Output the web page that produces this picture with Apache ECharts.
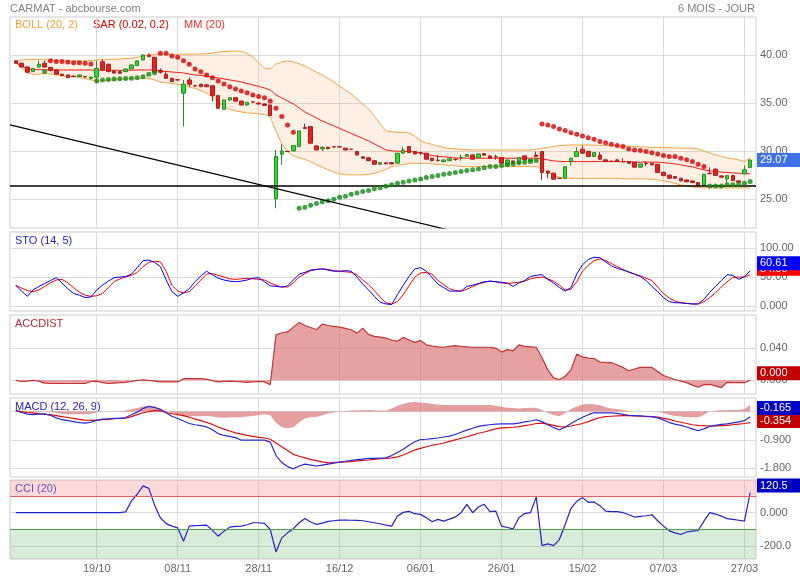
<!DOCTYPE html>
<html><head><meta charset="utf-8">
<script src="https://cdn.jsdelivr.net/npm/echarts@6.0.0/dist/echarts.min.js"></script>
<style>html,body{margin:0;padding:0;background:#fff}#c{width:800px;height:580px}</style>
</head><body><div id="c"></div>
<script>
// ---- x axis tick labels (trading-day index -> date) ----
const tickIdx  = [14, 28, 42, 56, 70, 84, 98, 112, 126];
const tickText = ['19/10','08/11','28/11','16/12','06/01','26/01','15/02','07/03','27/03'];

// ---- candles: [open, close, low, high] ----
const candles = [
[39.38,39.14,39.10,39.42],[39.14,38.75,38.70,39.20],[38.75,38.20,38.15,38.80],[38.27,38.60,38.22,38.65],[38.75,39.03,38.70,39.40],
[39.14,38.75,38.70,39.40],[38.70,38.37,38.30,38.75],[38.44,38.00,37.95,38.50],[38.00,37.85,37.80,38.05],[37.92,37.64,37.60,37.95],
[37.80,37.76,37.70,37.85],[37.75,37.92,37.70,37.95],[37.75,37.72,37.65,37.78],[37.58,37.70,37.43,37.74],[37.68,38.60,37.20,39.40],
[39.30,38.44,38.40,39.55],[39.03,38.27,38.20,39.10],[38.33,38.13,38.05,38.40],[38.27,38.10,38.05,38.30],[38.27,38.54,38.20,38.60],
[38.54,38.96,38.50,39.00],[38.89,39.38,38.85,39.45],[39.48,40.00,39.45,40.05],[40.00,39.83,39.80,40.15],[39.76,38.20,38.15,39.80],
[38.40,38.20,38.05,38.60],[38.00,37.58,37.50,38.30],[37.58,37.23,37.20,37.60],[37.42,37.40,37.35,37.45],[36.02,36.96,32.55,37.40],
[37.40,36.96,36.70,37.65],[36.80,36.78,36.70,36.85],[36.96,36.70,36.65,37.00],[36.90,36.70,36.65,36.95],[36.80,35.77,35.15,36.85],
[35.77,34.46,34.40,35.85],[34.35,35.32,34.30,35.35],[35.32,35.56,35.25,35.60],[35.56,35.20,35.15,35.60],[35.20,34.80,34.75,35.25],
[34.80,35.08,34.75,35.10],[35.12,35.10,35.05,35.15],[35.00,34.90,34.85,35.05],[34.90,34.75,34.70,34.95],[34.80,33.70,33.65,34.85],
[25.03,29.43,24.06,30.10],[29.68,30.02,28.56,30.75],[29.98,29.95,29.90,30.02],[30.02,30.57,29.95,30.60],[30.47,32.10,30.40,32.15],
[32.45,32.35,32.30,32.85],[32.55,30.82,30.78,32.60],[30.54,30.12,30.08,30.58],[30.23,30.40,30.00,30.45],[30.40,30.25,30.20,30.45],
[30.45,30.43,30.38,30.50],[30.45,30.43,30.38,30.50],[30.30,30.12,30.08,30.35],[30.20,30.18,30.12,30.25],[29.95,29.60,29.55,30.00],
[29.40,29.26,29.20,29.45],[29.30,29.00,28.95,29.35],[29.00,28.63,28.60,29.05],[28.63,28.80,28.60,28.85],[28.78,28.68,28.62,28.82],
[28.80,28.66,28.62,28.84],[28.74,29.78,28.70,29.80],[29.78,30.12,29.75,30.45],[30.47,29.85,29.80,30.50],[29.95,29.70,29.65,30.00],
[29.82,29.80,29.60,29.95],[29.78,29.16,29.10,29.82],[29.26,29.00,28.95,29.30],[29.05,29.03,28.90,29.60],[28.90,29.08,28.85,29.10],
[29.00,29.20,28.95,29.25],[29.15,29.12,29.00,29.25],[29.30,29.35,29.00,29.65],[29.45,29.65,29.40,29.70],[29.60,29.16,29.10,29.65],
[29.30,29.70,29.25,29.75],[29.74,29.57,29.50,29.78],[29.50,29.26,29.20,29.55],[29.40,29.38,29.10,29.60],[29.33,28.74,28.70,29.38],
[28.57,29.08,28.52,29.12],[28.97,28.74,28.70,29.00],[28.74,29.33,28.70,29.38],[29.50,29.08,29.05,29.55],[28.92,29.15,28.90,29.20],
[29.60,29.43,29.40,29.95],[29.95,27.77,27.00,30.00],[27.93,27.70,27.15,27.98],[27.70,27.08,27.03,27.75],[27.18,27.16,27.10,27.22],
[27.18,28.39,27.15,28.45],[28.90,29.26,28.50,29.30],[29.43,29.95,29.40,30.40],[30.20,29.78,29.72,30.60],[29.98,29.43,29.40,30.02],
[29.43,29.85,29.38,29.90],[29.60,29.16,29.10,29.90],[29.09,28.92,28.88,29.12],[28.95,28.92,28.88,29.00],[29.09,28.92,28.88,29.12],
[28.90,28.88,28.85,29.25],[28.90,28.74,28.70,28.95],[28.85,28.33,28.30,28.88],[28.33,28.67,28.30,28.70],[28.70,28.68,28.45,28.95],
[28.74,28.57,28.52,28.78],[28.64,27.77,27.72,28.68],[27.80,27.45,27.40,27.85],[27.50,27.18,27.12,27.55],[27.35,27.18,27.12,27.40],
[27.18,26.90,26.85,27.22],[27.00,26.80,26.75,27.05],[26.90,26.73,26.68,26.95],[26.73,26.45,26.40,26.78],[26.45,27.60,26.40,27.65],
[27.70,27.65,27.60,28.30],[28.13,27.47,27.42,28.18],[27.42,27.28,27.22,27.46],[27.10,27.45,26.70,27.50],[27.45,26.93,26.88,27.50],
[26.90,26.75,26.70,26.95],[27.63,28.05,27.58,28.50],[28.30,29.07,28.25,29.12]
];

const bollUpper = [
39.38,39.48,39.53,39.55,39.53,39.50,39.48,39.45,39.41,39.38,
39.38,39.38,39.38,39.43,39.48,39.50,39.53,39.55,39.58,39.62,
39.66,39.74,39.90,40.00,40.07,40.07,40.07,40.07,40.07,40.07,
40.08,40.09,40.10,40.13,40.19,40.31,40.36,40.40,40.42,40.36,
40.18,39.79,39.17,38.65,38.54,39.06,39.27,39.38,39.27,39.10,
38.86,38.54,38.23,37.92,37.56,37.19,36.77,36.36,35.94,35.42,
34.90,34.38,33.65,32.82,32.10,32.00,31.96,31.94,31.89,31.58,
31.06,30.85,30.70,30.54,30.38,30.28,30.23,30.18,30.16,30.12,
30.12,30.12,30.12,30.12,30.12,30.12,30.12,30.12,30.12,30.12,
30.18,30.28,30.38,30.49,30.57,30.61,30.64,30.64,30.64,30.64,
30.62,30.60,30.59,30.58,30.57,30.54,30.51,30.48,30.44,30.41,
30.38,30.37,30.36,30.35,30.33,30.32,30.31,30.30,30.23,30.02,
29.81,29.60,29.45,29.29,29.19,29.09,28.93,29.29];

const bollLower = [
39.17,38.65,38.13,37.97,38.02,38.08,38.02,37.92,37.82,37.77,
37.71,37.66,37.56,37.40,37.30,37.33,37.37,37.40,37.45,37.51,
37.54,37.56,37.58,37.56,37.40,37.19,37.09,37.04,36.93,36.83,
36.67,36.52,36.31,36.05,35.63,35.11,34.65,34.33,34.18,34.08,
33.97,33.92,33.87,33.81,33.55,32.10,30.75,29.92,29.50,29.29,
29.14,28.88,28.57,28.31,28.05,27.84,27.63,27.53,27.53,27.53,
27.53,27.58,27.68,27.87,28.10,28.36,28.51,28.62,28.72,28.74,
28.74,28.72,28.67,28.62,28.57,28.51,28.46,28.39,28.39,28.39,
28.39,28.39,28.39,28.39,28.39,28.39,28.39,28.39,28.39,28.39,
28.39,28.15,27.79,27.47,27.27,27.18,27.16,27.16,27.16,27.16,
27.16,27.16,27.16,27.16,27.16,27.11,27.11,27.11,27.11,27.11,
27.06,27.01,26.90,26.80,26.64,26.49,26.38,26.28,26.21,26.17,
26.17,26.17,26.17,26.17,26.17,26.17,26.17,26.14];

const mm20 = [
39.22,38.86,38.54,38.49,38.47,38.47,38.44,38.44,38.44,38.44,
38.44,38.44,38.44,38.44,38.41,38.41,38.41,38.41,38.41,38.41,
38.41,38.44,38.44,38.44,38.41,38.34,38.28,38.23,38.18,38.13,
38.02,37.92,37.87,37.79,37.71,37.61,37.51,37.40,37.30,37.19,
37.04,36.88,36.73,36.57,36.36,35.84,35.53,35.22,34.91,34.49,
34.07,33.76,33.45,33.14,32.88,32.62,32.36,32.10,31.84,31.58,
31.32,31.06,30.75,30.44,30.12,30.02,29.99,29.97,29.95,29.92,
29.81,29.66,29.55,29.45,29.40,29.35,29.29,29.26,29.26,29.26,
29.26,29.26,29.26,29.26,29.26,29.26,29.26,29.26,29.26,29.26,
29.26,29.19,29.09,28.98,28.93,28.91,28.91,28.91,28.91,28.91,
28.91,28.91,28.91,28.91,28.91,28.91,28.91,28.85,28.85,28.85,
28.85,28.85,28.80,28.74,28.67,28.57,28.46,28.36,28.20,28.05,
27.94,27.87,27.81,27.77,27.73,27.70,27.68,27.63];

const sar = [
null,null,null,null,null,38.27,39.41,39.31,39.31,39.27,
39.20,39.20,39.15,39.06,37.30,37.40,37.45,37.50,37.52,37.54,
37.58,37.64,37.74,38.00,38.14,40.18,40.18,39.90,39.76,39.41,
39.03,38.54,38.26,37.92,37.64,37.30,36.99,36.70,36.47,36.26,
36.08,35.84,35.67,35.56,35.22,34.46,33.59,32.72,31.96,24.05,
24.17,24.36,24.54,24.72,24.84,25.00,25.19,25.31,25.50,25.65,
25.79,25.91,26.09,26.20,26.35,26.49,26.66,26.77,26.90,27.00,
27.11,27.25,27.35,27.45,27.60,27.66,27.77,27.87,27.97,28.05,
28.15,28.28,28.39,28.41,28.49,28.57,28.67,28.80,28.85,28.91,
29.01,32.83,32.72,32.55,32.31,32.13,31.92,31.76,31.58,31.40,
31.24,30.99,30.88,30.72,30.57,30.47,30.23,30.12,30.05,29.95,
29.84,29.71,29.53,29.43,29.43,29.26,29.09,28.91,28.64,28.39,
26.38,26.38,26.38,26.49,26.49,26.49,26.66,26.83];

// drawn lines on the price chart
const trendIdx = [-1, 79];
const trendVal = [32.72, 21.2];
const supportLevel = 26.35;

const stoK = [
36,26,17,28,34,39,44,49,40,30, 22,19,15,16,28,36,43,49,50,51,
55,66,78,79,75,68,45,25,17,23, 30,42,52,60,54,48,45,43,42,43,
45,48,49,42,35,34,33,35,45,55, 58,62,63,64,62,60,60,61,60,50,
38,28,17,7,4,3,20,36,51,64, 66,60,49,38,32,26,26,26,34,36,
39,42,43,42,41,40,34,40,44,51, 53,54,46,40,32,26,32,55,71,80,
84,83,76,69,65,62,59,55,51,44, 34,25,15,8,6,6,5,4,4,12,
24,34,44,54,53,46,51,60.61];

const stoD = [
36,31,27,25,28,34,40,45,46,40, 32,24,19,17,18,22,32,42,47,50,
53,58,68,75,77,76,60,36,26,23, 25,35,45,55,56,53,50,47,46,47,
48,47,46,45,40,36,33,33,40,50, 56,61,63,64,63,61,60,59,58,54,
45,37,27,16,6,4,8,20,35,50, 57,58,55,44,37,30,27,26,29,34,
38,41,43,42,40,39,40,41,43,47, 49,50,47,43,36,28,29,42,60,70,
78,81,78,73,68,63,58,55,52,48, 44,33,22,14,9,6,5,4,4,8,
15,23,33,42,49,50,50,54];

const accDist = [
0.0000,-0.0015,-0.0010,0.0000,-0.0010,-0.0035,-0.0040,-0.0040,-0.0040,-0.0040,
-0.0040,-0.0040,-0.0040,-0.0015,-0.0010,-0.0030,-0.0040,-0.0035,-0.0030,-0.0025,
-0.0015,0.0000,0.0005,0.0000,-0.0010,-0.0020,-0.0020,-0.0020,-0.0020,0.0020,
0.0020,0.0020,0.0020,0.0015,-0.0005,-0.0020,-0.0015,-0.0010,-0.0015,-0.0020,
-0.0025,-0.0020,-0.0015,-0.0020,-0.0055,0.0565,0.0590,0.0600,0.0660,0.0718,
0.0680,0.0655,0.0627,0.0697,0.0680,0.0668,0.0660,0.0645,0.0627,0.0585,
0.0647,0.0570,0.0545,0.0535,0.0524,0.0500,0.0483,0.0532,0.0500,0.0470,
0.0495,0.0440,0.0425,0.0415,0.0410,0.0420,0.0430,0.0420,0.0415,0.0410,
0.0410,0.0410,0.0410,0.0400,0.0350,0.0380,0.0366,0.0440,0.0420,0.0415,
0.0410,0.0280,0.0130,0.0030,0.0010,0.0050,0.0130,0.0325,0.0290,0.0276,
0.0270,0.0226,0.0222,0.0220,0.0190,0.0160,0.0119,0.0140,0.0160,0.0160,
0.0160,0.0110,0.0060,0.0035,0.0010,-0.0010,-0.0030,-0.0060,-0.0087,-0.0054,
-0.0050,-0.0070,-0.0090,-0.0025,-0.0030,-0.0030,-0.0030,0.0000];

const macd = [
0.03,-0.03,-0.08,-0.10,-0.08,-0.07,-0.12,-0.20,-0.26,-0.29,
-0.32,-0.35,-0.37,-0.34,-0.28,-0.24,-0.23,-0.22,-0.22,-0.19,
-0.10,-0.02,0.10,0.16,0.13,0.07,-0.04,-0.15,-0.22,-0.30,
-0.38,-0.42,-0.45,-0.49,-0.58,-0.70,-0.76,-0.79,-0.83,-0.91,
-0.91,-0.91,-0.91,-0.91,-0.97,-1.40,-1.62,-1.75,-1.82,-1.73,
-1.67,-1.70,-1.73,-1.70,-1.67,-1.64,-1.61,-1.58,-1.55,-1.53,
-1.51,-1.49,-1.49,-1.48,-1.47,-1.40,-1.30,-1.20,-1.07,-0.96,
-0.89,-0.88,-0.86,-0.84,-0.81,-0.78,-0.73,-0.66,-0.59,-0.53,
-0.47,-0.44,-0.42,-0.40,-0.39,-0.39,-0.39,-0.37,-0.33,-0.30,
-0.26,-0.32,-0.42,-0.51,-0.58,-0.50,-0.38,-0.28,-0.18,-0.10,
-0.04,-0.04,-0.04,-0.04,-0.06,-0.09,-0.12,-0.13,-0.14,-0.15,
-0.16,-0.20,-0.27,-0.35,-0.40,-0.44,-0.49,-0.55,-0.61,-0.55,
-0.47,-0.44,-0.41,-0.39,-0.36,-0.33,-0.29,-0.165];

const macdSignal = [
0.03,0.00,-0.03,-0.05,-0.07,-0.09,-0.10,-0.13,-0.16,-0.19,
-0.22,-0.25,-0.27,-0.28,-0.27,-0.26,-0.25,-0.23,-0.22,-0.21,
-0.16,-0.10,-0.04,0.00,0.03,0.02,-0.03,-0.07,-0.10,-0.13,
-0.18,-0.24,-0.29,-0.35,-0.41,-0.49,-0.56,-0.62,-0.68,-0.72,
-0.76,-0.79,-0.82,-0.84,-0.88,-1.00,-1.12,-1.24,-1.36,-1.42,
-1.47,-1.52,-1.56,-1.60,-1.63,-1.62,-1.61,-1.60,-1.59,-1.57,
-1.55,-1.54,-1.52,-1.50,-1.49,-1.47,-1.44,-1.38,-1.30,-1.22,
-1.17,-1.12,-1.07,-1.04,-1.00,-0.95,-0.90,-0.85,-0.80,-0.75,
-0.69,-0.65,-0.60,-0.55,-0.52,-0.51,-0.50,-0.48,-0.45,-0.42,
-0.38,-0.37,-0.40,-0.44,-0.48,-0.49,-0.46,-0.42,-0.38,-0.32,
-0.25,-0.19,-0.16,-0.15,-0.14,-0.13,-0.13,-0.14,-0.15,-0.16,
-0.16,-0.18,-0.22,-0.25,-0.30,-0.34,-0.38,-0.42,-0.44,-0.45,
-0.46,-0.46,-0.45,-0.44,-0.42,-0.40,-0.38,-0.354];

const macdHist = [
0.00,-0.03,-0.05,-0.05,-0.02,0.00,-0.02,-0.05,-0.08,-0.09,
-0.09,-0.09,-0.09,-0.07,-0.03,-0.01,0.00,0.01,0.01,0.03,
0.07,0.11,0.16,0.20,0.16,0.08,0.00,-0.05,-0.09,-0.12,
-0.14,-0.15,-0.15,-0.14,-0.16,-0.19,-0.20,-0.19,-0.18,-0.18,
-0.16,-0.14,-0.11,-0.09,-0.12,-0.36,-0.50,-0.53,-0.50,-0.35,
-0.22,-0.18,-0.17,-0.12,-0.06,-0.03,0.00,0.02,0.03,0.04,
0.04,0.05,0.04,0.03,0.03,0.10,0.18,0.25,0.29,0.30,
0.29,0.27,0.24,0.22,0.21,0.21,0.21,0.21,0.21,0.21,
0.21,0.21,0.21,0.18,0.15,0.12,0.11,0.10,0.11,0.12,
0.12,0.05,-0.05,-0.12,-0.15,-0.05,0.08,0.16,0.22,0.24,
0.23,0.20,0.14,0.10,0.08,0.05,0.02,0.00,0.00,0.00,
0.00,0.00,-0.05,-0.10,-0.14,-0.16,-0.18,-0.18,-0.18,-0.10,
0.00,0.03,0.04,0.05,0.05,0.05,0.08,0.21];

const cci = [
0,0,0,0,0,0,0,0,0,0, 0,0,0,0,0,0,0,0,0,5,
70,110,160,145,45,-30,-65,-80,-90,-170, -80,-77,-76,-74,-105,-140,-110,-86,-82,-80,
-72,-60,-60,-64,-100,-234,-150,-120,-95,-60, -35,-55,-70,-62,-52,-48,-44,-44,-45,-46,
-48,-54,-60,-66,-74,-80,-20,2,8,-6, -10,-30,-54,-40,-50,-38,-26,0,50,0,
34,50,6,10,-80,-88,-96,-30,-5,0, 93,-196,-186,-196,-160,-70,25,68,90,62,
64,42,10,6,6,1,-12,-26,-22,-18, -12,-48,-80,-108,-120,-130,-115,-110,-106,-50,
0,-8,-20,-35,-40,-45,-50,120.5];

// ---- y axis ticks ----
const mainTicks = [25, 30, 35, 40];
const stoTicks = [0, 50, 100], stoTickText = ['0.000', '50.00', '100.00'];
const accTicks = [0, 0.04];
const macdTicks = [-1.8, -0.9, 0];
const cciTicks = [-200, 0], cciTickText = ['-200.0', '0.000'];
const cciBands = [-100, 100];

// ---------------- chart ----------------
const FONT = '"Liberation Sans", Arial, sans-serif';
const N = candles.length;
const cats = []; for (let j = 0; j < N + 2; j++) cats.push(String(j));
const tickMap = {}; tickIdx.forEach((t, k) => { tickMap[t + 1] = tickText[k]; });
const isTick = (j) => tickMap[j] !== undefined;
const pad = (a) => ['-'].concat(a);
const last = (a) => a[a.length - 1];
const GRAY = '#dadada';
const CLEAR = 'rgba(0,0,0,0)';

const panelRanges = [[22.0, 43.95], [-8, 127], [-0.017, 0.081], [-2.08, 0.43], [-276, 195]];
const gridPos = [[17, 211], [232, 79], [315, 79], [398, 79], [480, 79]];

const grids = gridPos.map(p => ({left: 10, right: 44, top: p[0], height: p[1], show: true,
  borderColor: '#cccccc', borderWidth: 1, backgroundColor: '#fff'}));

const xAxes = gridPos.map((p, k) => ({
  type: 'category', gridIndex: k, data: cats, boundaryGap: false,
  axisLine: {show: false}, axisTick: {show: false},
  axisLabel: {show: k === 4, interval: (i) => isTick(i), formatter: (v, i) => tickMap[i] || '',
    color: '#666', fontSize: 11, fontFamily: FONT, margin: 4},
  splitLine: {show: true, interval: (i) => isTick(i), lineStyle: {color: GRAY, width: 1}}
}));

function yAx(k, ticks, fmt) {
  return {type: 'value', gridIndex: k, position: 'right', min: panelRanges[k][0], max: panelRanges[k][1],
    axisLine: {show: false}, axisTick: {show: false, customValues: ticks},
    axisLabel: {customValues: ticks, formatter: fmt, color: '#666', fontSize: 11, fontFamily: FONT,
      margin: 4, padding: [0, 0, 4, 0]},
    splitLine: {show: true, lineStyle: {color: GRAY, width: 1}}};
}
const yAxes = [
  yAx(0, mainTicks, v => v.toFixed(2)),
  yAx(1, stoTicks, v => stoTickText[stoTicks.indexOf(v)] || ''),
  yAx(2, accTicks, v => v.toFixed(3)),
  yAx(3, macdTicks, v => v.toFixed(3)),
  yAx(4, cciTicks, v => cciTickText[cciTicks.indexOf(v)] || '')
];

function badgeItem(value, text, bg, dy) {
  return {yAxis: value, lineStyle: {color: CLEAR, width: 0},
    label: {show: true, position: 'end', distance: 1, formatter: text,
      color: '#fff', backgroundColor: bg, fontSize: 11, fontFamily: FONT, lineHeight: 13,
      padding: [1, 2, 0, 3], width: 38, align: 'left', offset: [0, dy]}};
}
function badge(value, text, bg, dy) {
  return {silent: true, symbol: 'none', animation: false, lineStyle: {color: CLEAR, width: 0},
    data: [badgeItem(value, text, bg, dy)]};
}
function ln(k, data, color, width, extra) {
  return Object.assign({type: 'line', xAxisIndex: k, yAxisIndex: k, data: pad(data), symbol: 'none',
    lineStyle: {color: color, width: width}, silent: true}, extra || {});
}

const series = [];
// Bollinger band fill
series.push(ln(0, bollLower, '#000', 0, {stack: 'boll', lineStyle: {opacity: 0}, z: 1}));
series.push(ln(0, bollUpper.map((u, i) => +(u - bollLower[i]).toFixed(3)), '#000', 0,
  {stack: 'boll', lineStyle: {opacity: 0}, areaStyle: {color: 'rgba(250,180,115,0.28)'}, z: 1}));
series.push(ln(0, bollUpper, '#f6a545', 1, {z: 2}));
series.push(ln(0, bollLower, '#f6a545', 1, {z: 2}));
series.push(ln(0, mm20, '#ff1a1a', 1, {z: 3}));
series.push({type: 'candlestick', xAxisIndex: 0, yAxisIndex: 0, barWidth: 4, silent: true, z: 4,
  data: [['-', '-', '-', '-']].concat(candles),
  itemStyle: {color: '#2edc2e', color0: '#ee1c1c', borderColor: '#2a8a2a', borderColor0: '#a82222', borderWidth: 1},
  markLine: badge(last(candles)[1], last(candles)[1].toFixed(2), '#3f72e4', 0)});
series.push({type: 'scatter', xAxisIndex: 0, yAxisIndex: 0, symbolSize: 5, silent: true, z: 5,
  data: sar.map((v, i) => v == null ? null : {value: [i + 1, v],
    itemStyle: {color: v > candles[i][1] ? '#d80000' : '#138a13'}}).filter(Boolean)});
series.push({type: 'line', xAxisIndex: 0, yAxisIndex: 0, symbol: 'none', silent: true, z: 6,
  data: trendIdx.map((t, k) => [t + 1, trendVal[k]]), lineStyle: {color: '#000', width: 1.2},
  markLine: {silent: true, symbol: 'none', animation: false, label: {show: false},
    lineStyle: {color: '#000', width: 1.5, type: 'solid'}, data: [{yAxis: supportLevel}]}});

// STO
series.push(ln(1, stoD, '#ff0000', 1, {z: 2, markLine: badge(last(stoD), last(stoD).toFixed(2), '#ff0000', -6)}));
series.push(ln(1, stoK, '#0000ff', 1, {z: 3, markLine: badge(last(stoK), last(stoK).toFixed(2), '#0000ff', -7.5)}));

// ACCDIST
series.push(ln(2, accDist, '#c43434', 1.2, {areaStyle: {color: '#dc7a7a', origin: 0},
  markLine: badge(last(accDist), last(accDist).toFixed(3), '#c00000', -7)}));

// MACD
series.push(ln(3, macdHist, '#d87878', 0, {lineStyle: {opacity: 0}, areaStyle: {color: '#d87878', origin: 0}, z: 1}));
series.push(ln(3, macdSignal, '#dd1111', 1.2, {z: 2, markLine: badge(last(macdSignal), last(macdSignal).toFixed(3), '#c00000', -1.5)}));
series.push(ln(3, macd, '#2a2ad8', 1.2, {z: 3, markLine: badge(last(macd), last(macd).toFixed(3), '#0000c0', -9)}));

// CCI
series.push(ln(4, cci, '#2222cc', 1.2, {z: 3,
  markArea: {silent: true, data: [
    [{yAxis: cciBands[1], itemStyle: {color: 'rgba(248,150,150,0.36)'}}, {yAxis: panelRanges[4][1]}],
    [{yAxis: panelRanges[4][0], itemStyle: {color: 'rgba(110,180,110,0.26)'}}, {yAxis: cciBands[0]}]]},
  markLine: {silent: true, symbol: 'none', animation: false, data: [
    {yAxis: cciBands[1], label: {show: false}, lineStyle: {color: '#e06060', width: 1, type: 'solid'}},
    {yAxis: cciBands[0], label: {show: false}, lineStyle: {color: '#4f9f4f', width: 1, type: 'solid'}},
    badgeItem(last(cci), last(cci).toFixed(1), '#0000c0', -7)]}}));

function txt(x, y, text, color, right) {
  const o = {type: 'text', top: y, style: {text: text, fill: color, font: '11px ' + FONT}};
  if (right) o.right = x; else o.left = x;
  return o;
}

const chart = echarts.init(document.getElementById('c'), null, {renderer: 'canvas'});
chart.setOption({
  animation: false,
  backgroundColor: '#fff',
  grid: grids, xAxis: xAxes, yAxis: yAxes, series: series,
  graphic: [
    txt(10, 3, 'CARMAT - abcbourse.com', '#808080'),
    txt(45, 3, '6 MOIS - JOUR', '#808080', true),
    txt(15, 19, 'BOLL (20, 2)', '#f5a033'),
    txt(93, 19, 'SAR (0.02, 0.2)', '#e00000'),
    txt(184, 19, 'MM (20)', '#ff2a2a'),
    txt(15, 235.5, 'STO (14, 5)', '#2222ee'),
    txt(15, 318, 'ACCDIST', '#c02828'),
    txt(15, 401.5, 'MACD (12, 26, 9)', '#2222cc'),
    txt(15, 483.5, 'CCI (20)', '#2222cc')
  ]
});
</script></body></html>
